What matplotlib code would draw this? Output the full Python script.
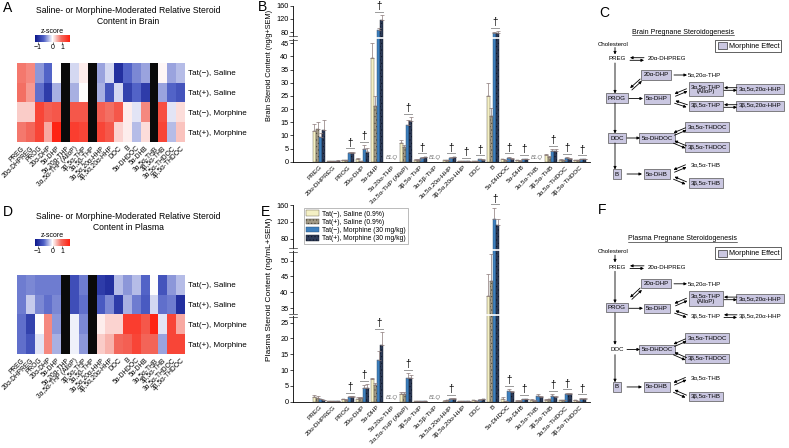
import numpy as np
import matplotlib
matplotlib.use('Agg')
import matplotlib.pyplot as plt
from matplotlib.colors import LinearSegmentedColormap, TwoSlopeNorm
from matplotlib.patches import Patch, Rectangle
import matplotlib.transforms as mtransforms

plt.rcParams['font.family'] = ['Liberation Sans', 'DejaVu Sans']
plt.rcParams['hatch.linewidth'] = 0.35
plt.rcParams['axes.linewidth'] = 0.6

# ---------------- data ----------------
steroids = ['PREG', '20α-DHPREG', 'PROG', '20α-DHP', '5α-DHP', '5α,20α-THP',
            '3α,5α-THP (AlloP)', '3β,5α-THP', '3α,5β-THP', '3α,5α,20α-HHP',
            '3β,5α,20α-HHP', 'DOC', 'B', '5α-DHDOC', '5α-DHB', '3α,5α-THB',
            '3β,5α-THB', '3α,5α-THDOC', '3β,5α-THDOC']
row_labels = ['Tat(−), Saline', 'Tat(+), Saline', 'Tat(−), Morphine', 'Tat(+), Morphine']
legend_labels = ['Tat(−), Saline (0.9%)', 'Tat(+), Saline (0.9%)',
                 'Tat(−), Morphine (30 mg/kg)', 'Tat(+), Morphine (30 mg/kg)']
nan = np.nan

# z-scores: rows = groups, columns = steroids (NaN = below limit of quantification)
brain_z = [
    [0.8, 0.7, -0.4, -0.6, 0.0, nan, -0.15, 0.1, nan, -0.35, -0.15, -1.0, -0.6, -0.45, -0.35, nan, 0.05, -0.35, -0.25],
    [0.85, 0.6, -0.55, -0.9, -0.3, nan, -0.3, 0.0, nan, -0.3, -0.7, -0.15, -0.85, -0.6, -0.9, nan, -0.35, -0.6, -0.7],
    [0.3, 0.3, 1.3, 1.0, 1.1, nan, 1.1, 1.1, nan, 1.0, 0.85, 1.1, 0.1, -0.1, 0.7, nan, 1.2, -0.1, 0.2],
    [0.8, 0.9, 1.3, 0.5, 1.7, nan, 1.4, 1.3, nan, 1.3, 1.1, 0.25, 0.1, -0.25, 0.2, nan, 1.3, -0.25, 0.35],
]
plasma_z = [
    [-0.5, -0.45, -0.5, -0.5, -0.5, nan, -0.75, -0.5, nan, -0.9, -1.0, -0.25, -0.4, -0.25, -0.6, 0.0, -0.7, -0.4, -0.25],
    [-0.5, -0.2, -0.45, -0.55, -0.45, nan, -0.75, -0.55, nan, -0.65, -0.45, -0.9, -0.3, -0.5, -0.65, -0.15, -0.55, -0.5, -1.0],
    [-0.55, -0.85, 0.0, 0.7, -0.4, nan, -0.05, -0.45, nan, 0.1, 0.25, 0.25, 1.4, 1.4, 1.1, 1.7, -0.1, 1.3, 0.5],
    [-0.55, -0.7, -0.1, 0.7, -0.3, nan, -0.05, -0.4, nan, 0.3, 0.45, 0.9, 1.0, 1.3, 0.95, 0.95, -0.35, 1.3, 1.3],
]

# brain means / SEM per steroid: [Tat- Sal, Tat+ Sal, Tat- Mor, Tat+ Mor]
brain_mean = [
    [11.8, 12.5, 9.2, 12.2], [0.3, 0.3, 0.35, 0.4], [0.6, 0.7, 3.3, 3.3], [1.0, 0.3, 4.8, 3.8],
    [39.5, 21.2, 86, 117], [nan] * 4, [7.2, 5.7, 14.0, 15.5], [0.8, 0.8, 1.5, 1.6], [nan] * 4,
    [0.6, 0.6, 1.5, 1.6], [0.1, 0.1, 0.15, 0.15], [0.3, 0.2, 0.9, 0.8], [25.0, 17.3, 78, 79],
    [0.9, 0.7, 1.5, 1.2], [0.5, 0.4, 1.0, 1.0], [nan] * 4, [2.5, 1.8, 4.0, 4.0],
    [0.8, 0.7, 1.3, 1.1], [0.5, 0.5, 0.9, 0.9]]
brain_sem = [
    [2.5, 2.5, 1.6, 3.5], [0.05, 0.05, 0.05, 0.1], [0.1, 0.1, 0.5, 0.5], [0.3, 0.1, 1.5, 1.5],
    [7.0, 3.8, 6, 14], [nan] * 4, [1.0, 0.8, 1.8, 1.5], [0.2, 0.2, 0.2, 0.2], [nan] * 4,
    [0.1, 0.1, 0.3, 0.3], [0.02, 0.02, 0.03, 0.03], [0.1, 0.05, 0.2, 0.2], [5.0, 3.2, 4, 4],
    [0.2, 0.1, 0.4, 0.3], [0.1, 0.1, 0.2, 0.2], [nan] * 4, [0.4, 0.3, 0.8, 0.8],
    [0.2, 0.1, 0.3, 0.2], [0.1, 0.1, 0.2, 0.2]]
brain_sig = [2, 3, 4, 6, 7, 9, 10, 11, 12, 13, 14, 16, 17, 18]

plasma_mean = [
    [1.4, 1.2, 0.8, 0.4], [0.2, 0.2, 0.2, 0.2], [0.7, 0.6, 1.5, 1.4], [1.0, 1.1, 4.2, 4.3],
    [7.2, 5.2, 13.2, 18.0], [nan] * 4, [2.5, 2.5, 7.5, 7.5], [0.3, 0.3, 0.3, 0.3], [nan] * 4,
    [0.3, 0.4, 0.9, 0.9], [0.1, 0.1, 0.1, 0.1], [0.4, 0.2, 0.6, 0.8], [38.7, 43.7, 128, 112],
    [1.0, 0.2, 3.4, 3.0], [0.3, 0.3, 0.8, 0.8], [0.6, 0.3, 1.7, 1.4], [0.6, 0.7, 1.9, 1.4],
    [0.4, 0.4, 2.4, 2.4], [0.4, 0.1, 0.9, 1.0]]
plasma_sem = [
    [0.6, 0.5, 0.2, 0.1], [0.05, 0.05, 0.05, 0.05], [0.1, 0.1, 0.3, 0.3], [0.4, 0.3, 1.2, 1.2],
    [0.3, 0.7, 2.8, 4.0], [nan] * 4, [0.5, 0.5, 1.5, 1.0], [0.05, 0.05, 0.05, 0.05], [nan] * 4,
    [0.1, 0.1, 0.2, 0.2], [0.02, 0.02, 0.02, 0.02], [0.1, 0.05, 0.2, 0.2], [7, 15, 25, 15],
    [0.6, 0.05, 0.5, 0.4], [0.1, 0.1, 0.2, 0.2], [0.3, 0.1, 0.6, 0.3], [0.2, 0.2, 0.5, 0.4],
    [0.1, 0.1, 0.4, 0.4], [0.1, 0.05, 0.2, 0.2]]
plasma_sig = [2, 3, 4, 6, 9, 12, 13, 14, 16, 17, 18]

brain_yticks = [0, 5, 10, 15, 20, 25, 30, 35, 40, 45, 80, 120, 160]
plasma_yticks = [0, 5, 10, 15, 20, 25, 35, 40, 45, 50, 80, 120, 160]

# flowchart nodes
flow_labels = {
    'chol': 'Cholesterol', 'PREG': 'PREG', 'DHPREG': '20α-DHPREG', 'DHP20': '20α-DHP',
    'THP520': '5α,20α-THP', 'PROG': 'PROG', 'DHP5': '5α-DHP', 'ALLO': '3α,5α-THP\n(AlloP)',
    'HHP3a': '3α,5α,20α-HHP', 'THP3b': '3β,5α-THP', 'HHP3b': '3β,5α,20α-HHP', 'DOC': 'DOC',
    'DHDOC': '5α-DHDOC', 'THDOC3a': '3α,5α-THDOC', 'THDOC3b': '3β,5α-THDOC', 'B': 'B',
    'DHB': '5α-DHB', 'THB3a': '3α,5α-THB', 'THB3b': '3β,5α-THB'}
brain_boxed = ['DHP20', 'PROG', 'DHP5', 'ALLO', 'HHP3a', 'THP3b', 'HHP3b', 'DOC', 'DHDOC',
               'THDOC3a', 'THDOC3b', 'B', 'DHB', 'THB3b']
plasma_boxed = ['DHP20', 'PROG', 'DHP5', 'ALLO', 'HHP3a', 'DHDOC', 'THDOC3a', 'THDOC3b',
                'B', 'DHB', 'THB3b']

# ---------------- figure ----------------
W, H = 789, 448
fig = plt.figure(figsize=(W / 100, H / 100), dpi=100)


def fax(x0, y0, x1, y1):
    return fig.add_axes([x0 / W, 1 - y1 / H, (x1 - x0) / W, (y1 - y0) / H])


cmap = LinearSegmentedColormap.from_list('zc', ['#0b168a', '#4f60c6', '#ffffff', '#f36a5e', '#ff1f0f'])
cmap.set_bad('#0a0a0a')
norm = TwoSlopeNorm(vmin=-1.22, vcenter=0, vmax=1.77)


def heatmap(y0, y1, cy0, z):
    ax = fax(17, y0, 185, y1)
    zz = np.ma.masked_invalid(np.array(z, float))
    im = ax.imshow(zz, cmap=cmap, norm=norm, aspect='auto', interpolation='nearest')
    ax.set_xticks(np.arange(len(steroids)))
    ax.set_xticklabels(steroids, rotation=45, ha='right', rotation_mode='anchor', fontsize=4.8)
    ax.set_yticks(np.arange(4))
    ax.set_yticklabels(row_labels, fontsize=5.8)
    ax.yaxis.tick_right()
    ax.tick_params(length=0, pad=2)
    for s in ax.spines.values():
        s.set_visible(False)
    cax = fax(35, cy0, 70, cy0 + 6.7)
    cb = fig.colorbar(im, cax=cax, orientation='horizontal')
    cb.set_ticks([-1, 0, 1])
    cb.ax.tick_params(labelsize=5, length=1.5, width=0.4, pad=0.5)
    cb.outline.set_visible(False)
    cax.set_title('z-score', fontsize=5, pad=1)
    return ax


heatmap(63, 142, 35, brain_z)
heatmap(275, 354, 239, plasma_z)

colors = ['#f4f0c4', '#a39b87', '#3e80be', '#2d3b58']
edges = ['#5a5546', '#453f33', '#24496e', '#0d1422']
hatches = [None, '.....', None, '.....']


def scale_funcs(xp, fp):
    xp = np.asarray(xp, float)
    fp = np.asarray(fp, float)
    return (lambda v: np.interp(v, xp, fp), lambda v: np.interp(v, fp, xp))


def barpanel(y0, y1, mean, sem, sig, yticks, xp, fp, breaks, ylabel, lab_fs, lab_x, lab_y):
    ax = fax(293, y0, 590, y1)
    ax.set_yscale('function', functions=scale_funcs(xp, fp))
    mean = np.array(mean, float)
    sem = np.array(sem, float)
    x = np.arange(len(steroids))
    w = 0.215
    for g in range(4):
        xs = x + (g - 1.5) * w
        m = mean[:, g]
        ok = ~np.isnan(m)
        ax.bar(xs[ok], m[ok], w, color=colors[g], edgecolor=edges[g], hatch=hatches[g],
               lw=0.3, zorder=2, label=legend_labels[g])
        ax.errorbar(xs[ok], m[ok], yerr=[np.zeros(ok.sum()), sem[ok, g]], fmt='none',
                    ecolor='#8a7878', elinewidth=0.5, capsize=1.2, capthick=0.5, zorder=3)
    ax.set_ylim(0, 160)
    ax.set_xlim(-1.8, 18.7)
    ax.set_yticks(yticks)
    ax.set_yticklabels([str(t) for t in yticks], fontsize=5.3)
    ax.set_xticks(x)
    ax.set_xticklabels(steroids, rotation=45, ha='right', rotation_mode='anchor', fontsize=4.6)
    ax.tick_params(axis='x', length=0, pad=2)
    ax.tick_params(axis='y', length=2, width=0.5, pad=1.2)
    ax.spines['top'].set_visible(False)
    ax.spines['right'].set_visible(False)
    ax.set_ylabel(ylabel, fontsize=lab_fs)
    ax.yaxis.set_label_coords(lab_x, lab_y)
    up = mtransforms.offset_copy(ax.transData, fig=fig, y=2.5, units='points')
    up2 = mtransforms.offset_copy(ax.transData, fig=fig, y=3.0, units='points')
    low = mtransforms.offset_copy(ax.transData, fig=fig, y=1.2, units='points')
    for i in range(len(steroids)):
        if np.all(np.isnan(mean[i])):
            ax.text(i, 0, 'BLQ', transform=low, fontsize=4.3, style='italic', color='#777777',
                    ha='center', va='bottom')
    for i in sig:
        top = np.nanmax(mean[i] + sem[i])
        ax.plot([i - 0.15, i + 0.4], [top, top], transform=up, color='#9a9a9a', lw=0.7,
                clip_on=False, zorder=4)
        ax.text(i + 0.12, top, '†', transform=up2, fontsize=7, ha='center', va='bottom',
                clip_on=False, zorder=4)
    bt = mtransforms.blended_transform_factory(ax.transAxes, ax.transData)
    for b in breaks:
        ax.axhline(b, color='white', lw=1.2, zorder=3.5)
        for dy in (-1.3, 1.3):
            tr = mtransforms.offset_copy(bt, fig=fig, y=dy, units='points')
            ax.plot([-0.012, 0.012], [b, b], transform=tr, color='#333333', lw=0.5,
                    clip_on=False, zorder=5)
    return ax


axB = barpanel(5.7, 161.7, brain_mean, brain_sem, brain_sig, brain_yticks,
               [-10, 0, 45, 80, 160, 400], [-10, 0, 45, 49.2, 59.3, 89.5], [62.5],
               'Brain Steroid Content (ng/g+SEM)', 5.3, -0.066, 0.62)
axE = barpanel(205, 401.7, plasma_mean, plasma_sem, plasma_sig, plasma_yticks,
               [-10, 0, 25, 35, 50, 80, 160, 400],
               [-10, 0, 25, 29.55, 44.55, 51.4, 62.1, 94.3], [30, 65],
               'Plasma Steroid Content (ng/mL+SEM)', 6.0, -0.066, 0.573)
handles = [Patch(facecolor=colors[g], edgecolor=edges[g], hatch=hatches[g], lw=0.3,
                 label=legend_labels[g]) for g in range(4)]
leg = axE.legend(handles=handles, loc='upper left', bbox_to_anchor=(0.025, 1.0), fontsize=4.9,
                 frameon=True, fancybox=False, edgecolor='#888888', handlelength=2.0,
                 handleheight=0.9, borderpad=0.3, labelspacing=0.15, handletextpad=0.4)
leg.get_frame().set_linewidth(0.5)
leg.set_zorder(10)

# ---------------- overlay: letters, titles, flowcharts ----------------
ov = fig.add_axes([0, 0, 1, 1])
ov.set_xlim(0, W)
ov.set_ylim(H, 0)
ov.axis('off')
ov.patch.set_alpha(0)

for letter, (lx, ly) in {'A': (8, 8), 'B': (263, 7), 'C': (604, 13),
                         'D': (8, 212), 'E': (266, 212), 'F': (602, 210)}.items():
    ov.text(lx, ly, letter, fontsize=10, ha='center', va='center')

ov.text(128, 16, 'Saline- or Morphine-Moderated Relative Steroid\nContent in Brain',
        fontsize=6.2, ha='center', va='center', linespacing=1.15)
ov.text(128, 222, 'Saline- or Morphine-Moderated Relative Steroid\nContent in Plasma',
        fontsize=6.2, ha='center', va='center', linespacing=1.15)

pos = {'chol': (613, 44), 'PREG': (617, 59), 'DHPREG': (667, 59), 'DHP20': (656, 75),
       'THP520': (704, 75), 'PROG': (617, 98), 'DHP5': (657, 99), 'ALLO': (706, 89),
       'HHP3a': (760, 89), 'THP3b': (706, 106), 'HHP3b': (760, 106), 'DOC': (617, 138),
       'DHDOC': (657, 138), 'THDOC3a': (707, 127), 'THDOC3b': (707, 147), 'B': (617, 174),
       'DHB': (657, 174), 'THB3a': (706, 165), 'THB3b': (706, 183)}
single_arrows = [((615, 47.5), (615, 54.5)), ((615, 63), (615, 93.5)), ((674, 75), (687, 75)),
                 ((629, 98.5), (643, 98.5)), ((615, 103), (615, 133.5)), ((627, 138), (640, 138)),
                 ((615, 143), (615, 169.5)), ((627, 174), (642, 174))]
double_arrows = [((630, 59), (644, 59)), ((631, 89), (641, 80)), ((675, 95), (687, 90)),
                 ((724, 89), (737, 89)), ((675, 102), (687, 106)), ((724, 106), (737, 106)),
                 ((674, 134), (686, 129)), ((674, 142), (686, 147)), ((674, 171), (686, 166)),
                 ((674, 178), (686, 183))]
box_fc = '#cac7e1'


def arrow(p1, p2):
    ov.annotate('', xy=p2, xytext=p1,
                arrowprops=dict(arrowstyle='-|>', lw=0.6, color='black', mutation_scale=4,
                                shrinkA=0, shrinkB=0))


def flowchart(title, boxed, ymap):
    fig.canvas.draw()
    t = ov.text(683, ymap(32), title, fontsize=5, ha='center', va='center')
    bb = t.get_window_extent(fig.canvas.get_renderer())
    inv = ov.transData.inverted()
    (xa, _), (xb, _) = inv.transform([(bb.x0, bb.y0), (bb.x1, bb.y0)])
    ov.plot([xa, xb], [ymap(32) + 3.5] * 2, color='black', lw=0.4)
    ly = ymap(40)
    ov.add_patch(Rectangle((715, ly), 66, 12, fc='white', ec='#222222', lw=0.5))
    ov.add_patch(Rectangle((718, ly + 2.5), 9, 7, fc=box_fc, ec='#333333', lw=0.5))
    ov.text(729.5, ly + 6, 'Morphine Effect', fontsize=5.2, va='center', ha='left')
    for k, lab in flow_labels.items():
        x, y = pos[k]
        kw = dict(fontsize=4.4, ha='center', va='center', linespacing=1.1)
        if k in boxed:
            kw['bbox'] = dict(boxstyle='square,pad=0.35', fc=box_fc, ec='#555555', lw=0.5)
        ov.text(x, ymap(y), lab, **kw)
    for p1, p2 in single_arrows:
        arrow((p1[0], ymap(p1[1])), (p2[0], ymap(p2[1])))
    for p1, p2 in double_arrows:
        a = np.array([p1[0], ymap(p1[1])])
        b = np.array([p2[0], ymap(p2[1])])
        d = b - a
        n = np.array([-d[1], d[0]]) / np.hypot(*d) * 1.3
        arrow(tuple(a + n), tuple(b + n))
        arrow(tuple(b - n), tuple(a - n))


flowchart('Brain Pregnane Steroidogenesis', brain_boxed, lambda y: y)
flowchart('Plasma Pregnane Steroidogenesis', plasma_boxed, lambda y: 239 + (y - 32) * 1.042)

fig.savefig('out.png', dpi=100)
